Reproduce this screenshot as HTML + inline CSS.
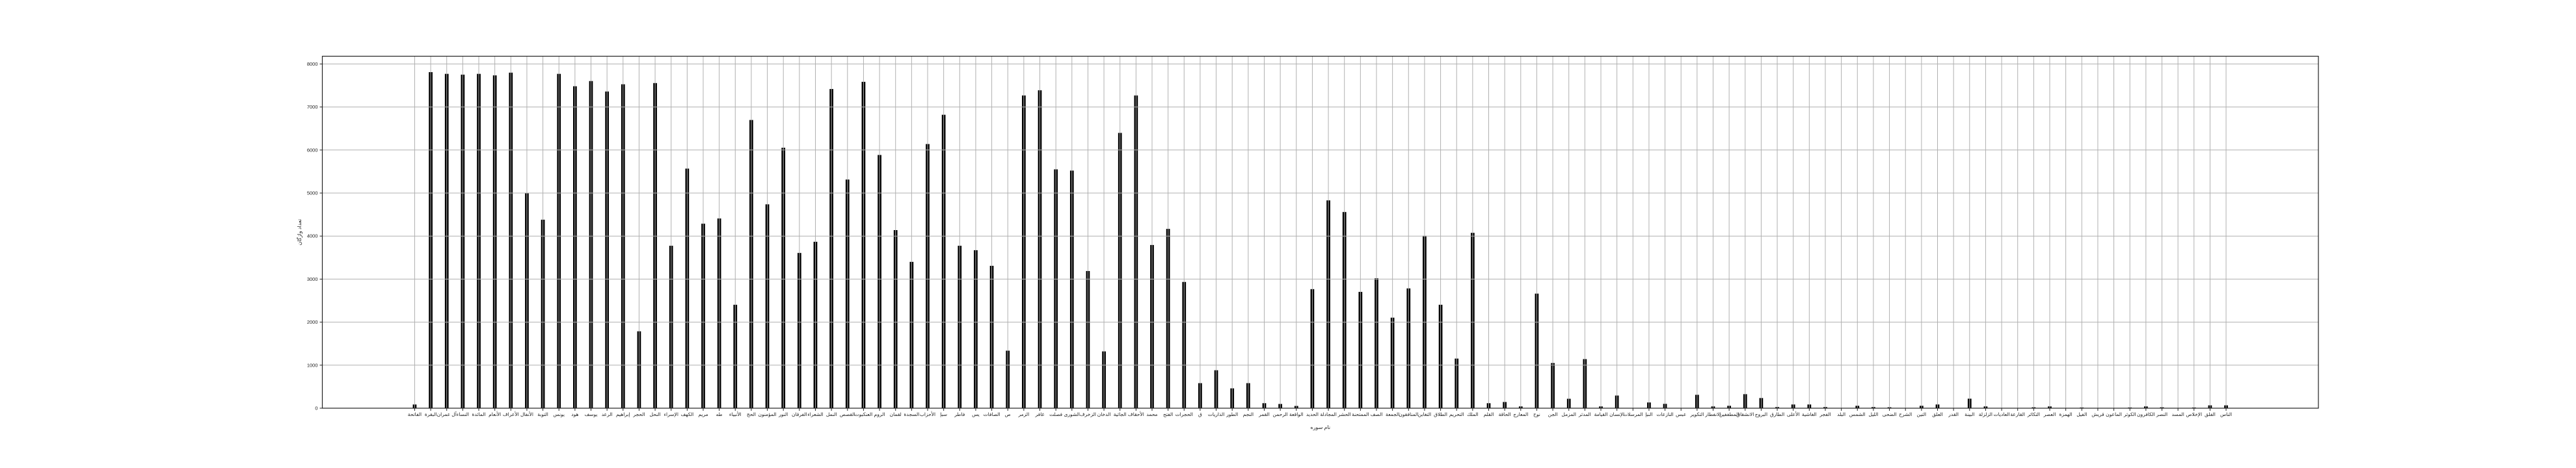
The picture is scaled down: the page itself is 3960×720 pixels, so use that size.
<!DOCTYPE html>
<html><head><meta charset="utf-8">
<style>
html,body{margin:0;padding:0;background:#fff;}
svg{display:block;}
text{font-family:"Liberation Sans","DejaVu Sans","Noto Sans CJK SC",sans-serif;fill:#222;}
</style></head>
<body>
<svg id="chart" width="3960" height="720" viewBox="0 0 3960 720" xmlns="http://www.w3.org/2000/svg"></svg>
<script>
const categories = ["الفاتحة","البقرة","آل عمران","النساء","المائدة","الأنعام","الأعراف","الأنفال","التوبة","يونس","هود","يوسف","الرعد","إبراهيم","الحجر","النحل","الإسراء","الكهف","مريم","طه","الأنبياء","الحج","المؤمنون","النور","الفرقان","الشعراء","النمل","القصص","العنكبوت","الروم","لقمان","السجدة","الأحزاب","سبإ","فاطر","يس","الصافات","ص","الزمر","غافر","فصلت","الشورى","الزخرف","الدخان","الجاثية","الأحقاف","محمد","الفتح","الحجرات","ق","الذاريات","الطور","النجم","القمر","الرحمن","الواقعة","الحديد","المجادلة","الحشر","الممتحنة","الصف","الجمعة","المنافقون","التغابن","الطلاق","التحريم","الملك","القلم","الحاقة","المعارج","نوح","الجن","المزمل","المدثر","القيامة","الإنسان","المرسلات","النبإ","النازعات","عبس","التكوير","الانفطار","المطففين","الانشقاق","البروج","الطارق","الأعلى","الغاشية","الفجر","البلد","الشمس","الليل","الضحى","الشرح","التين","العلق","القدر","البينة","الزلزلة","العاديات","القارعة","التكاثر","العصر","الهمزة","الفيل","قريش","الماعون","الكوثر","الكافرون","النصر","المسد","الإخلاص","الفلق","الناس"];
const values = [80,7804,7764,7746,7764,7729,7792,4997,4375,7764,7476,7597,7354,
7522,1781,7550,3769,5562,4282,4403,2398,6692,4732,6046,3602,3862,
7412,5308,7579,5879,4133,3395,6133,6813,3769,3666,3303,1331,7262,
7383,5545,5516,3182,1314,6392,7262,3787,4161,2928,576,876,455,
576,110,92,46,2761,4824,4553,2697,3014,2098,2778,4000,2398,
1147,4069,110,138,35,2657,1043,213,1135,35,288,0,127,
95,0,305,35,50,320,230,20,80,80,20,0,50,
20,15,0,50,80,0,215,35,0,0,15,35,0,
10,0,0,10,35,15,0,10,60,60];
const yTicks = [0,1000,2000,3000,4000,5000,6000,7000,8000];
const yTickLabels = ["0","1000","2000","3000","4000","5000","6000","7000","8000"];
const xTitle = "نام سوره";
const yTitle = "تعداد واژگان";

const NS = "http://www.w3.org/2000/svg";
const svg = document.getElementById('chart');
const L = 495.5, R = 3564, T = 86.5, B = 628;
const xMin = -5.76, xMax = 118.76, yMax = 8180;
function xs(i){ return L + (i - xMin) / (xMax - xMin) * (R - L); }
function ys(v){ return B - v / yMax * (B - T); }
function mk(tag, attrs){ const e = document.createElementNS(NS, tag); for (const k in attrs) e.setAttribute(k, attrs[k]); svg.appendChild(e); return e; }

// bars
const bw = 0.2 * (R - L) / (xMax - xMin);
values.forEach((v, i) => {
  const y = ys(v);
  const r = mk('rect', {x: xs(i) - bw/2, y: y, width: bw, height: B - y, fill: '#000', stroke: '#000', 'stroke-width': 0.8});
  
  
});
// grid (drawn above bars)
yTicks.forEach((t, k) => {
  const g = mk('line', {x1: L, x2: R, y1: ys(t), y2: ys(t), stroke: '#b0b0b0', 'stroke-width': 1});
  
  
  const tk = mk('line', {x1: L - 4, x2: L, y1: ys(t), y2: ys(t), stroke: '#222', 'stroke-width': 1});
  
  
  const lb = mk('text', {x: L - 7, y: ys(t) + 2.5, 'text-anchor': 'end', 'font-size': 7.5});
  lb.textContent = yTickLabels[k];
  
  
});
categories.forEach((c, i) => {
  const x = xs(i);
  const g = mk('line', {x1: x, x2: x, y1: T, y2: B, stroke: '#b0b0b0', 'stroke-width': 1});
  
  
  const tk = mk('line', {x1: x, x2: x, y1: B, y2: B + 4, stroke: '#222', 'stroke-width': 1});
  
  
  const lb = mk('text', {x: x, y: B + 12, 'text-anchor': 'middle', 'font-size': 7.5});
  lb.textContent = c;
  
  
});
// frame
const fr = mk('rect', {x: L, y: T, width: R - L, height: B - T, fill: 'none', stroke: '#222', 'stroke-width': 1.2});


// titles
const xt = mk('text', {x: (L + R) / 2, y: 660, 'text-anchor': 'middle', 'font-size': 8});
xt.textContent = xTitle;


const yt = mk('text', {x: 0, y: 0, 'text-anchor': 'middle', 'font-size': 8, transform: 'translate(463,' + ((T + B) / 2) + ') rotate(-90)'});
yt.textContent = yTitle;


</script>
</body></html>
